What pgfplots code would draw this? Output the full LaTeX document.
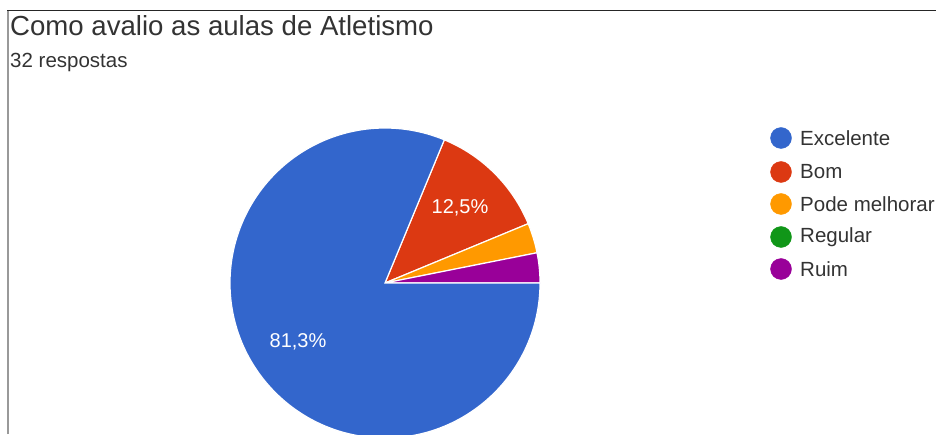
\documentclass[border=0pt]{standalone}
\usepackage{pgfplots}
\pgfplotsset{compat=1.18}
\usepackage{fontspec}
\setmainfont{Liberation Sans}
\definecolor{cA}{HTML}{3366CC}
\definecolor{cB}{HTML}{DC3912}
\definecolor{cC}{HTML}{FF9900}
\definecolor{cD}{HTML}{109618}
\definecolor{cE}{HTML}{990099}
\definecolor{txt}{HTML}{333333}
\begin{document}
\begin{tikzpicture}
\clip (0,0) rectangle (936pt,434pt);
\begin{axis}[
  at={(0,0)}, anchor=south west,
  scale only axis, width=936pt, height=434pt,
  xmin=0, xmax=936, ymin=0, ymax=434,
  hide axis, clip=false]
% counts: Excelente 26, Bom 4, Pode melhorar 1, Regular 0, Ruim 1 (total 32)
\def\R{155pt}
% slices clockwise from 67.5 deg
\fill[cB, draw=white, line width=1.2pt] (axis cs:385,151) -- ++(67.5:\R) arc[start angle=67.5, end angle=22.5, radius=\R] -- cycle;
\fill[cC, draw=white, line width=1.2pt] (axis cs:385,151) -- ++(22.5:\R) arc[start angle=22.5, end angle=11.25, radius=\R] -- cycle;
\fill[cE, draw=white, line width=1.2pt] (axis cs:385,151) -- ++(11.25:\R) arc[start angle=11.25, end angle=0, radius=\R] -- cycle;
\fill[cA, draw=white, line width=1.2pt] (axis cs:385,151) -- ++(0:\R) arc[start angle=0, end angle=-292.5, radius=\R] -- cycle;
\node[white, font=\fontsize{20}{24}\selectfont] at (axis cs:460,226) {12,5\%};
\node[white, font=\fontsize{20}{24}\selectfont] at (axis cs:298,92) {81,3\%};
% legend markers
\addplot[only marks, mark=*, mark size=10.5pt, cA, mark options={draw=cA}] coordinates {(781,296)};
\addplot[only marks, mark=*, mark size=10.5pt, cB, mark options={draw=cB}] coordinates {(781,262)};
\addplot[only marks, mark=*, mark size=10.5pt, cC, mark options={draw=cC}] coordinates {(781,230)};
\addplot[only marks, mark=*, mark size=10.5pt, cD, mark options={draw=cD}] coordinates {(781,197)};
\addplot[only marks, mark=*, mark size=10.5pt, cE, mark options={draw=cE}] coordinates {(781,165)};
\begin{scope}[every node/.style={anchor=west, text=txt, font=\fontsize{20.5}{24}\selectfont, inner sep=0pt}]
\node at (axis cs:800,296) {Excelente};
\node at (axis cs:800,262) {Bom};
\node at (axis cs:800,230) {Pode melhorar};
\node at (axis cs:800,197) {Regular};
\node at (axis cs:800,165) {Ruim};
\end{scope}
% title
\node[anchor=west, text=txt, inner sep=0pt, font=\fontsize{27.6}{32}\selectfont] at (axis cs:10,408) {Como avalio as aulas de Atletismo};
\node[anchor=west, text=txt, inner sep=0pt, font=\fontsize{20.5}{24}\selectfont] at (axis cs:10,372) {32 respostas};
% frame
\draw[gray!80, line width=2pt] (axis cs:8,0) -- (axis cs:8,423);
\draw[black!85, line width=1pt] (axis cs:7,423) -- (axis cs:936,423);
\end{axis}
\end{tikzpicture}
\end{document}
